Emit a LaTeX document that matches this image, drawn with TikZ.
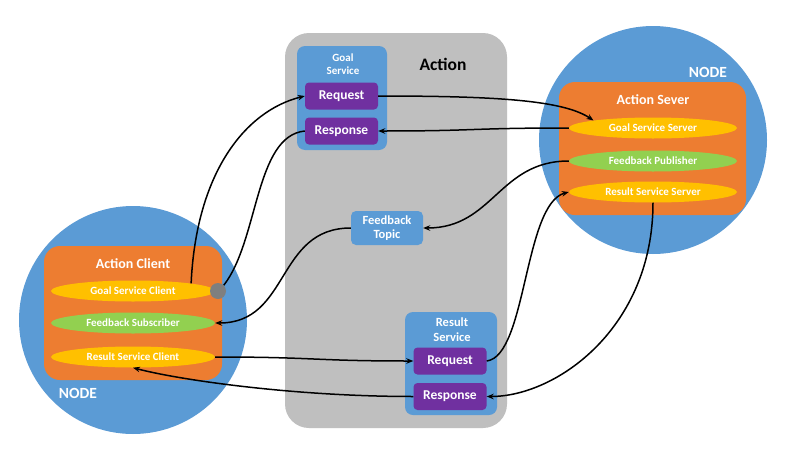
\documentclass[tikz,border=0pt]{standalone}
\usepackage{fontspec}
\setmainfont{Carlito}
\usetikzlibrary{arrows.meta,shapes.geometric}
\definecolor{nodeblue}{HTML}{5B9BD5}
\definecolor{orangebox}{HTML}{ED7D31}
\definecolor{goldell}{HTML}{FFC000}
\definecolor{greenell}{HTML}{92D050}
\definecolor{purplebox}{HTML}{7030A0}
\definecolor{actiongray}{HTML}{BFBFBF}
\definecolor{dotgray}{HTML}{7F7F7F}
\newcommand{\fsz}[1]{\fontsize{#1}{#1}\selectfont}
\tikzset{
  rosnode/.style={circle, fill=nodeblue, minimum size=228pt, inner sep=0pt},
  actorbox/.style={rectangle, rounded corners=16pt, fill=orangebox, inner sep=0pt},
  partell/.style={ellipse, fill=#1, minimum width=164pt, minimum height=21pt, inner sep=0pt,
    text=white, font=\bfseries\fsz{11}},
  svcbox/.style={rectangle, rounded corners=8pt, fill=nodeblue, inner sep=0pt},
  msgbox/.style={rectangle, rounded corners=4pt, fill=purplebox, minimum width=73pt,
    minimum height=27pt, inner sep=0pt, text=white, font=\bfseries\fsz{13.5}},
  whitelabel/.style={text=white, font=\bfseries\fsz{#1}, inner sep=0pt, align=center},
  link/.style={line width=1.5pt, -{Stealth[length=7pt,width=5.5pt]}},
  plainlink/.style={line width=1.5pt}
}
\begin{document}
\begin{tikzpicture}[x=1pt,y=-1pt]
\useasboundingbox[fill=white] (0,0) rectangle (806,458);

% ROS nodes
\node[rosnode] (lnode) at (133,320) {};
\node[rosnode] (rnode) at (653,140) {};
\node[whitelabel=15.5] (lnodelbl) at (78,393) {NODE};
\node[whitelabel=15.5] (rnodelbl) at (708,72) {NODE};

% Action client
\node[actorbox, minimum width=178pt, minimum height=134pt] (client) at (133,313) {};
\node[whitelabel=14] (clientlbl) at (133,264) {Action Client};
\node[partell=goldell] (gsc) at (133,291) {Goal Service Client};
\node[partell=greenell] (fs) at (133,323) {Feedback Subscriber};
\node[partell=goldell] (rsc) at (133,357) {Result Service Client};

% Action server
\node[actorbox, minimum width=187pt, minimum height=133pt] (server) at (652.5,148.5) {};
\node[whitelabel=14] (serverlbl) at (653,100) {Action Sever};
\node[partell=goldell, minimum width=168pt] (gss) at (653,128) {Goal Service Server};
\node[partell=greenell, minimum width=168pt] (fp) at (653,161) {Feedback Publisher};
\node[partell=goldell, minimum width=168pt] (rss) at (653,192) {Result Service Server};

% Action area
\node[rectangle, rounded corners=24pt, fill=actiongray, minimum width=222pt,
  minimum height=395pt, inner sep=0pt] (action) at (396,230.5) {};
\node[font=\bfseries\fsz{17.5}, inner sep=0pt] (actionlbl) at (443,64) {Action};

% Goal service
\node[svcbox, minimum width=90pt, minimum height=104pt] (goalsvc) at (342,98) {};
\node[whitelabel=11] (goalsvclbl) at (343,64.5) {Goal\\[2pt]Service};
\node[msgbox] (greq) at (341.5,96) {Request};
\node[msgbox] (gresp) at (341.5,131) {Response};

% Feedback topic
\node[svcbox, rounded corners=5pt, minimum width=72pt, minimum height=34pt,
  whitelabel=12.5] (ft) at (387,228) {Feedback\\[2pt]Topic};

% Result service
\node[svcbox, minimum width=92pt, minimum height=103pt] (resultsvc) at (451,363.5) {};
\node[whitelabel=12.5] (resultsvclbl) at (452,329.5) {Result\\[2pt]Service};
\node[msgbox] (rreq) at (450,361) {Request};
\node[msgbox] (rresp) at (450,396.5) {Response};

% Goal exchange
\draw[link] (gsc.north east) .. controls +(5,-110) and +(-60,15) .. (greq.west);
\draw[link] (greq.east) .. controls +(120,0) and +(-30,-20) .. (gss.north west);
\draw[link] (gss.west) .. controls +(-100,0) and +(100,0) .. (gresp.east);

% Feedback stream
\draw[link] (fp.west) .. controls +(-70,0) and +(70,0) .. (ft.east);
\draw[link] (ft.west) .. controls +(-75,0) and +(75,0) .. (fs.east);

% Result exchange
\draw[link] (rsc.east) .. controls +(100,0) and +(-100,0) .. (rreq.west);
\draw[link] (rreq.east) .. controls +(40,-5) and +(-45,12) .. (rss.west);
\draw[link] (rss.south) .. controls +(0,125) and +(70,0) .. (rresp.east);
\draw[link] (rresp.west) .. controls +(-120,0) and +(45,12) .. (rsc.south);

% Goal response returns to the client port
\node[circle, fill=dotgray, minimum size=16pt, inner sep=0pt] (port) at (218,291) {};
\draw[plainlink] (gresp.west) .. controls +(-50,5) and +(35,-45) .. (port.north east);
\end{tikzpicture}
\end{document}
